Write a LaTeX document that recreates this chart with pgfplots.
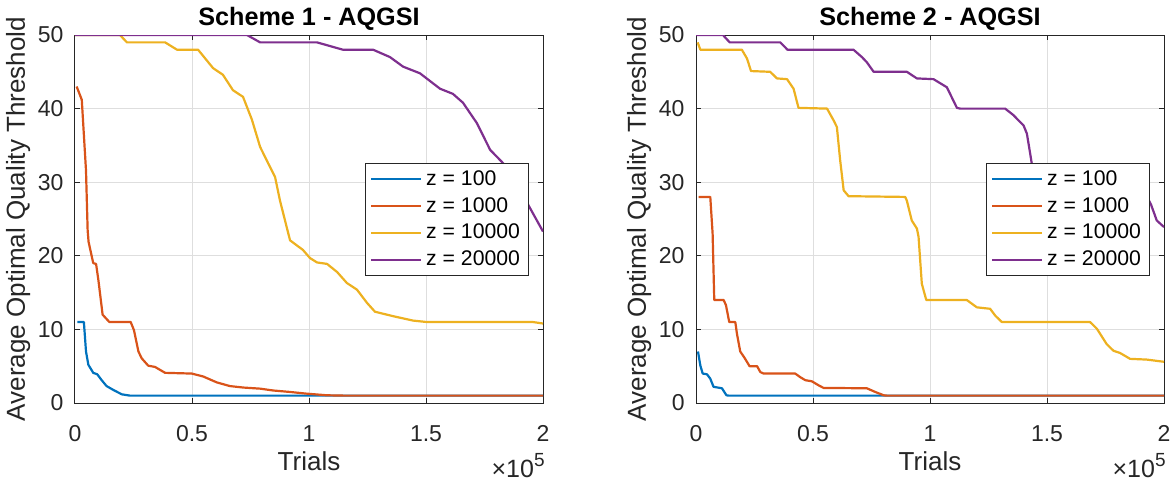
\documentclass[border=0pt]{standalone}
\usepackage{fontspec}
\setmainfont{Liberation Sans}
\usepackage{pgfplots}
\pgfplotsset{compat=1.18}
\definecolor{mblue}{rgb}{0,0.447,0.741}
\definecolor{morange}{rgb}{0.85,0.325,0.098}
\definecolor{myellow}{rgb}{0.929,0.694,0.125}
\definecolor{mpurple}{rgb}{0.494,0.184,0.556}
\definecolor{maxis}{rgb}{0.15,0.15,0.15}
\definecolor{mgrid}{rgb}{0.87,0.87,0.87}
\pgfplotsset{
  mstyle/.style={
    scale only axis, width=234pt, height=184pt,
    xmin=0, xmax=2, ymin=0, ymax=50,
    xtick={0,0.5,1,1.5,2}, xticklabels={0,0.5,1,1.5,2},
    ytick={0,10,20,30,40,50},
    clip mode=individual,
    /pgf/number format/assume math mode=true,
    tick align=inside, tick pos=both, major tick length=2.5pt,
    tick style={maxis, line width=0.5pt},
    axis line style={maxis, line width=0.5pt},
    grid=major, major grid style={mgrid, line width=0.5pt},
    ticklabel style={font=\fontsize{11.5}{13}\selectfont, text=maxis},
    xticklabel style={anchor=base, yshift=-19pt},
    yticklabel style={anchor=east, xshift=-2.2pt},
    title style={font=\bfseries\fontsize{12.6}{15}\selectfont, at={(axis description cs:0.5,1)}, anchor=base, yshift=-1pt},
    xlabel style={font=\fontsize{13}{15}\selectfont, text=maxis, at={(axis description cs:0.5,0)}, anchor=base, yshift=-33.5pt},
    ylabel style={font=\fontsize{13}{15}\selectfont, text=maxis, at={(axis description cs:-0.107,0.5)}, anchor=base},
    xlabel={Trials}, ylabel={Average Optimal Quality Threshold},
    every axis plot/.append style={line width=1.1pt, line join=round},
    legend cell align=left,
    legend image code/.code={\draw[#1] (0pt,0pt) -- (25pt,0pt);},
    legend style={at={(0.971,0.653)}, anchor=north east, draw=maxis, line width=0.5pt, fill=white,
      font=\fontsize{10.6}{12}\selectfont, inner xsep=2.5pt, inner ysep=1.35pt, row sep=0pt,
      nodes={inner ysep=1.7pt, text height=8pt, text depth=2pt}},
  }
}
\begin{document}
\begin{tikzpicture}
\useasboundingbox (-37.5pt,-39.5pt) rectangle (550.5pt,201.5pt);
\begin{axis}[mstyle, at={(0pt,0pt)}, anchor=south west, title={Scheme 1 - AQGSI}]
\addplot[mblue] coordinates {(0.010,11) (0.038,11) (0.047,7.0) (0.057,5.2) (0.078,4.1) (0.095,3.9) (0.114,3.1) (0.135,2.3) (0.164,1.77) (0.2,1.18) (0.235,1.0) (2,1)};
\addplot[morange] coordinates {(0.007,43) (0.029,41.2) (0.047,31.6) (0.054,23.5) (0.058,21.9) (0.078,19) (0.09,18.9) (0.1,16.7) (0.118,12) (0.147,11) (0.238,11) (0.252,9.9) (0.271,7.0) (0.285,6.07) (0.313,5.07) (0.342,4.9) (0.385,4.1) (0.499,4.0) (0.548,3.6) (0.606,2.8) (0.662,2.3) (0.719,2.1) (0.791,1.95) (0.847,1.7) (0.919,1.5) (0.99,1.27) (1.076,1.05) (1.154,1.0) (2,1)};
\addplot[myellow] coordinates {(0,50) (0.192,50) (0.222,49) (0.385,49) (0.436,48) (0.526,48) (0.59,45.5) (0.632,44.6) (0.675,42.5) (0.718,41.6) (0.756,38.5) (0.791,34.8) (0.825,32.6) (0.855,30.7) (0.876,27.5) (0.919,22.1) (0.974,20.8) (1.004,19.7) (1.034,19.1) (1.077,18.9) (1.12,17.8) (1.162,16.3) (1.205,15.4) (1.248,13.6) (1.282,12.4) (1.359,11.8) (1.444,11.2) (1.504,11.0) (1.957,11.0) (2.0,10.8)};
\addplot[mpurple] coordinates {(0,50) (0.735,50) (0.791,49) (1.034,49) (1.145,48) (1.274,48) (1.346,47.0) (1.402,45.7) (1.474,44.8) (1.56,42.7) (1.615,42) (1.658,40.8) (1.718,38) (1.774,34.4) (1.829,32.6) (1.902,30.3) (1.932,27.2) (2.0,23.3)};
\legend{z = 100, z = 1000, z = 10000, z = 20000}
\node[anchor=base east, font=\fontsize{12.5}{14}\selectfont, text=maxis, inner sep=0pt] at (axis description cs:1,0) [xshift=1pt, yshift=-37pt] {×10\raisebox{0.8ex}{\fontsize{9.5}{10}\selectfont 5}};
\end{axis}
\begin{axis}[mstyle, at={(310.5pt,0pt)}, anchor=south west, title={Scheme 2 - AQGSI}]
\addplot[mblue] coordinates {(0.0085,7.0) (0.0185,5.1) (0.0285,4.0) (0.047,3.9) (0.061,3.3) (0.075,2.2) (0.111,2.0) (0.13,1.05) (0.14,1.0) (2,1)};
\addplot[morange] coordinates {(0.011,28) (0.061,28) (0.071,23) (0.078,14) (0.118,14) (0.128,13.3) (0.142,11) (0.168,11) (0.175,9.4) (0.189,7.0) (0.208,6.1) (0.229,5.0) (0.261,5.0) (0.275,4.2) (0.289,4.0) (0.424,4.0) (0.446,3.5) (0.467,3.1) (0.495,2.95) (0.524,2.4) (0.545,2.05) (0.73,2.0) (0.766,1.5) (0.802,1.05) (0.816,1.0) (2,1)};
\addplot[myellow] coordinates {(0.007,49) (0.0185,48) (0.196,48) (0.218,46.8) (0.235,45.1) (0.317,45) (0.346,44.1) (0.389,44.0) (0.417,42.7) (0.438,40.1) (0.56,40) (0.588,38.4) (0.602,37.5) (0.616,33.0) (0.631,28.9) (0.652,28.1) (0.894,28) (0.901,27.5) (0.922,24.8) (0.944,23.7) (0.951,22.6) (0.965,16.2) (0.984,14.0) (1.157,14) (1.2,13.0) (1.257,12.8) (1.278,11.9) (1.307,11.0) (1.684,11) (1.713,10.1) (1.755,8.0) (1.784,7.1) (1.812,6.8) (1.855,6.0) (1.926,5.9) (2.0,5.6)};
\addplot[mpurple] coordinates {(0,50) (0.115,50) (0.144,49) (0.360,49) (0.391,48) (0.673,48) (0.709,47.0) (0.730,46.3) (0.759,45.0) (0.901,45) (0.944,44.1) (1.015,44.0) (1.072,42.9) (1.115,40.1) (1.129,40.0) (1.321,40) (1.357,39.1) (1.378,38.4) (1.40,37.7) (1.414,36.6) (1.428,33.9) (1.435,32.5) (1.45,31.5) (1.5,30.2) (1.6,30) (1.8,30) (1.88,29.5) (1.92,28.5) (1.944,27) (1.969,24.8) (2.0,23.9)};
\legend{z = 100, z = 1000, z = 10000, z = 20000}
\node[anchor=base east, font=\fontsize{12.5}{14}\selectfont, text=maxis, inner sep=0pt] at (axis description cs:1,0) [xshift=1pt, yshift=-37pt] {×10\raisebox{0.8ex}{\fontsize{9.5}{10}\selectfont 5}};
\end{axis}
\end{tikzpicture}
\end{document}
